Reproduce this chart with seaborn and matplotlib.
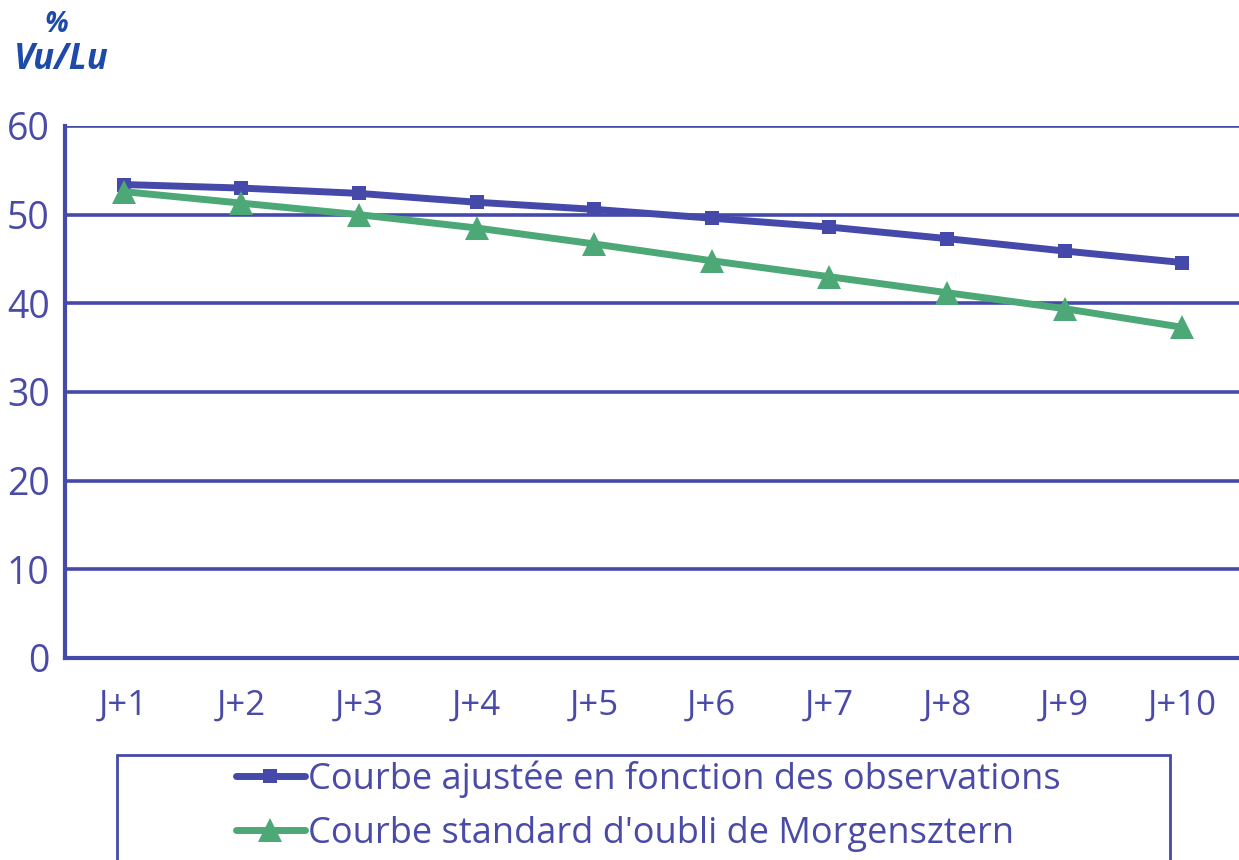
import numpy as np
import pandas as pd
import matplotlib.pyplot as plt
import seaborn as sns
from matplotlib.patches import Rectangle

# Data
jours = ['J+1', 'J+2', 'J+3', 'J+4', 'J+5', 'J+6', 'J+7', 'J+8', 'J+9', 'J+10']
ajustee = [53.4, 53.0, 52.4, 51.4, 50.6, 49.6, 48.6, 47.3, 45.9, 44.6]
standard = [52.6, 51.3, 50.0, 48.5, 46.7, 44.8, 43.0, 41.2, 39.4, 37.3]
labels = ['Courbe ajustée en fonction des observations',
          "Courbe standard d'oubli de Morgensztern"]

blue = '#4549AA'
green = '#4CA876'
title_blue = '#1E4BAA'
text_blue = '#4A4AA8'

sns.set_style('white')
plt.rcParams['font.family'] = ['Open Sans', 'DejaVu Sans']

df = pd.DataFrame({'jour': jours, labels[0]: ajustee, labels[1]: standard})

W, H = 1239, 860
fig = plt.figure(figsize=(W / 100, H / 100), dpi=100)
ax = fig.add_axes([65 / W, 1 - 658 / H, 1176 / W, 532 / H])

sns.lineplot(x='jour', y=labels[0], data=df, ax=ax, color=blue, lw=5,
             marker='s', markersize=10, markeredgewidth=0, label=labels[0])
sns.lineplot(x='jour', y=labels[1], data=df, ax=ax, color=green, lw=5,
             marker='^', markersize=17, markeredgewidth=0, label=labels[1])

ax.set_xlim(-0.5, len(jours) - 0.5)
ax.set_ylim(0, 60)
ax.set_xlabel('')
ax.set_ylabel('')

# y axis ticks and grid
ax.set_yticks(np.arange(0, 61, 10))
ax.tick_params(axis='y', direction='out', length=10, width=3, color=blue,
               labelcolor=text_blue, labelsize=27, pad=1)
ax.grid(axis='y', color=blue, lw=2.6)
ax.set_axisbelow(True)

# x ticks between categories, labels centred
ax.set_xticks(np.arange(-0.5, len(jours), 1.0))
ax.set_xticklabels([])
ax.set_xticks(np.arange(len(jours)), minor=True)
ax.set_xticklabels(jours, minor=True)
ax.tick_params(axis='x', which='major', direction='out', length=13, width=3, color=blue)
ax.tick_params(axis='x', which='minor', length=0, pad=22, labelsize=25,
               labelcolor=text_blue)

for s in ['top', 'right']:
    ax.spines[s].set_visible(False)
for s in ['left', 'bottom']:
    ax.spines[s].set_color(blue)
    ax.spines[s].set_linewidth(3)

# axis title
fig.text(56 / W, 1 - 25 / H, '%', color=title_blue, fontsize=20, fontweight='bold',
         fontstyle='italic', ha='center', va='center')
fig.text(61 / W, 1 - 60 / H, 'Vu/Lu', color=title_blue, fontsize=25, fontweight='bold',
         fontstyle='italic', ha='center', va='center')

# legend: frame drawn separately, entries indented like the original
fig.patches.append(Rectangle((117 / W, -0.01), (1170 - 117) / W, (0.01 + 1 - 755 / H),
                             transform=fig.transFigure, fill=False,
                             edgecolor=blue, lw=2))
leg = ax.legend(loc='upper left', bbox_to_anchor=(236 / W, 1 - 760 / H),
                bbox_transform=fig.transFigure, frameon=False,
                fontsize=26, handlelength=1.9, handletextpad=0.08,
                borderpad=0, labelspacing=0.5, borderaxespad=0)
for t in leg.get_texts():
    t.set_color(text_blue)

plt.savefig('out.png', dpi=100)
